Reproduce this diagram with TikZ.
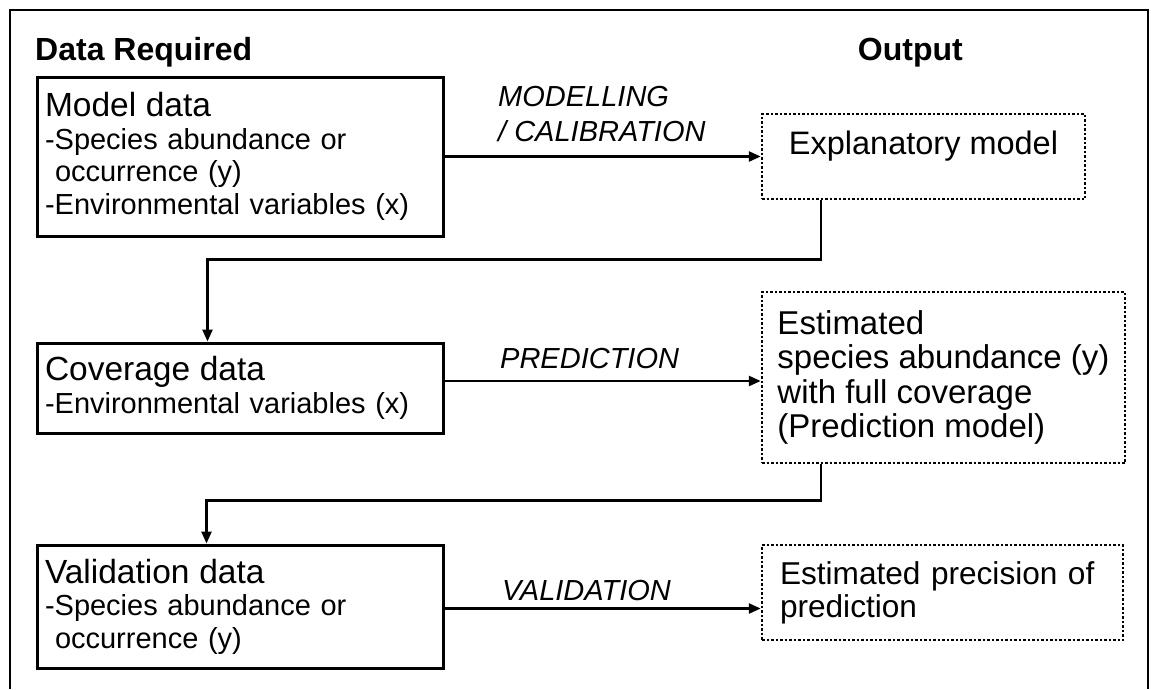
\documentclass[tikz,border=0pt]{standalone}
\usepackage{fontspec}
\setmainfont{Liberation Sans}
\usetikzlibrary{arrows.meta}
\newcommand{\boxtitle}[1]{{\fontsize{33.5}{36}\selectfont #1}}
\begin{document}
\begin{tikzpicture}[x=1pt,y=-1pt,
  frame/.style={line width=2.5pt},
  head/.style={font=\fontsize{32}{36}\selectfont\bfseries, inner sep=0pt},
  solidbox/.style={draw, line width=3pt, rectangle, inner xsep=8pt, inner ysep=0pt,
    align=left, text width=390pt, minimum width=406pt, font=\fontsize{29}{32.5}\selectfont},
  dotbox/.style={draw, line width=2.5pt, dash pattern=on 2.5pt off 2pt, rectangle,
    inner xsep=18pt, inner ysep=0pt, align=left},
  conn/.style={line width=2.5pt, -{Triangle[length=12pt,width=10pt]}},
  lbl/.style={font=\fontsize{29}{35}\selectfont\itshape, inner sep=0pt, align=left}
]
\useasboundingbox (0,0) rectangle (1151,689);
\fill[white] (0,0) rectangle (1151,689);
\draw[frame] (10,689) -- (10,10) -- (1148,10) -- (1148,689);

\node[head, anchor=base west] (hdata) at (35,60) {Data Required};
\node[head, anchor=base east] (hout) at (963,60) {Output};

\node[solidbox, minimum height=159pt] (model) at (240,156.5)
  {\boxtitle{Model data}\\-Species abundance or\\\hspace*{10pt}occurrence (y)\\-Environmental variables (x)};
\node[solidbox, minimum height=90pt] (cov) at (240,388)
  {\boxtitle{Coverage data}\\-Environmental variables (x)};
\node[solidbox, minimum height=123pt] (val) at (240,606.5)
  {\boxtitle{Validation data}\\-Species abundance or\\\hspace*{10pt}occurrence (y)};

\node[dotbox, align=center, minimum width=323pt, minimum height=85pt,
  font=\fontsize{32.5}{36}\selectfont,
  text height=23pt, text depth=28pt] (expl) at (923.5,156.5) {Explanatory model};
\node[dotbox, inner xsep=0pt, minimum width=363pt, minimum height=171pt,
  font=\fontsize{33}{34.5}\selectfont] (pred) at (943.5,377.5)
  {Estimated\\species abundance (y)\\with full coverage\\(Prediction model)};
\node[dotbox, text width=325pt, minimum width=361pt, minimum height=95pt,
  font=\fontsize{31.6}{33}\selectfont] (prec) at (942.5,592.5)
  {Estimated precision of\\prediction};

\node[lbl, anchor=north west] (lmod) at (498,86) {MODELLING\\/ CALIBRATION};
\node[lbl, anchor=base west] (lpred) at (500,368) {PREDICTION};
\node[lbl, anchor=base west] (lval) at (502,600) {VALIDATION};

\draw[conn] (model.east) -- (model.east -| expl.west);
\draw[conn] ([xshift=60pt]expl.south west) |- ([xshift=172pt,yshift=82pt]cov.north west)
  -- ([xshift=172pt]cov.north west);
\draw[conn] ([yshift=7pt]cov.east) -- ([yshift=7pt]cov.east -| pred.west);
\draw[conn] ([xshift=60pt]pred.south west) |- ([xshift=171pt,yshift=43pt]val.north west)
  -- ([xshift=171pt]val.north west);
\draw[conn] ([yshift=-2pt]val.east) -- ([yshift=-2pt]val.east -| prec.west);
\end{tikzpicture}
\end{document}
